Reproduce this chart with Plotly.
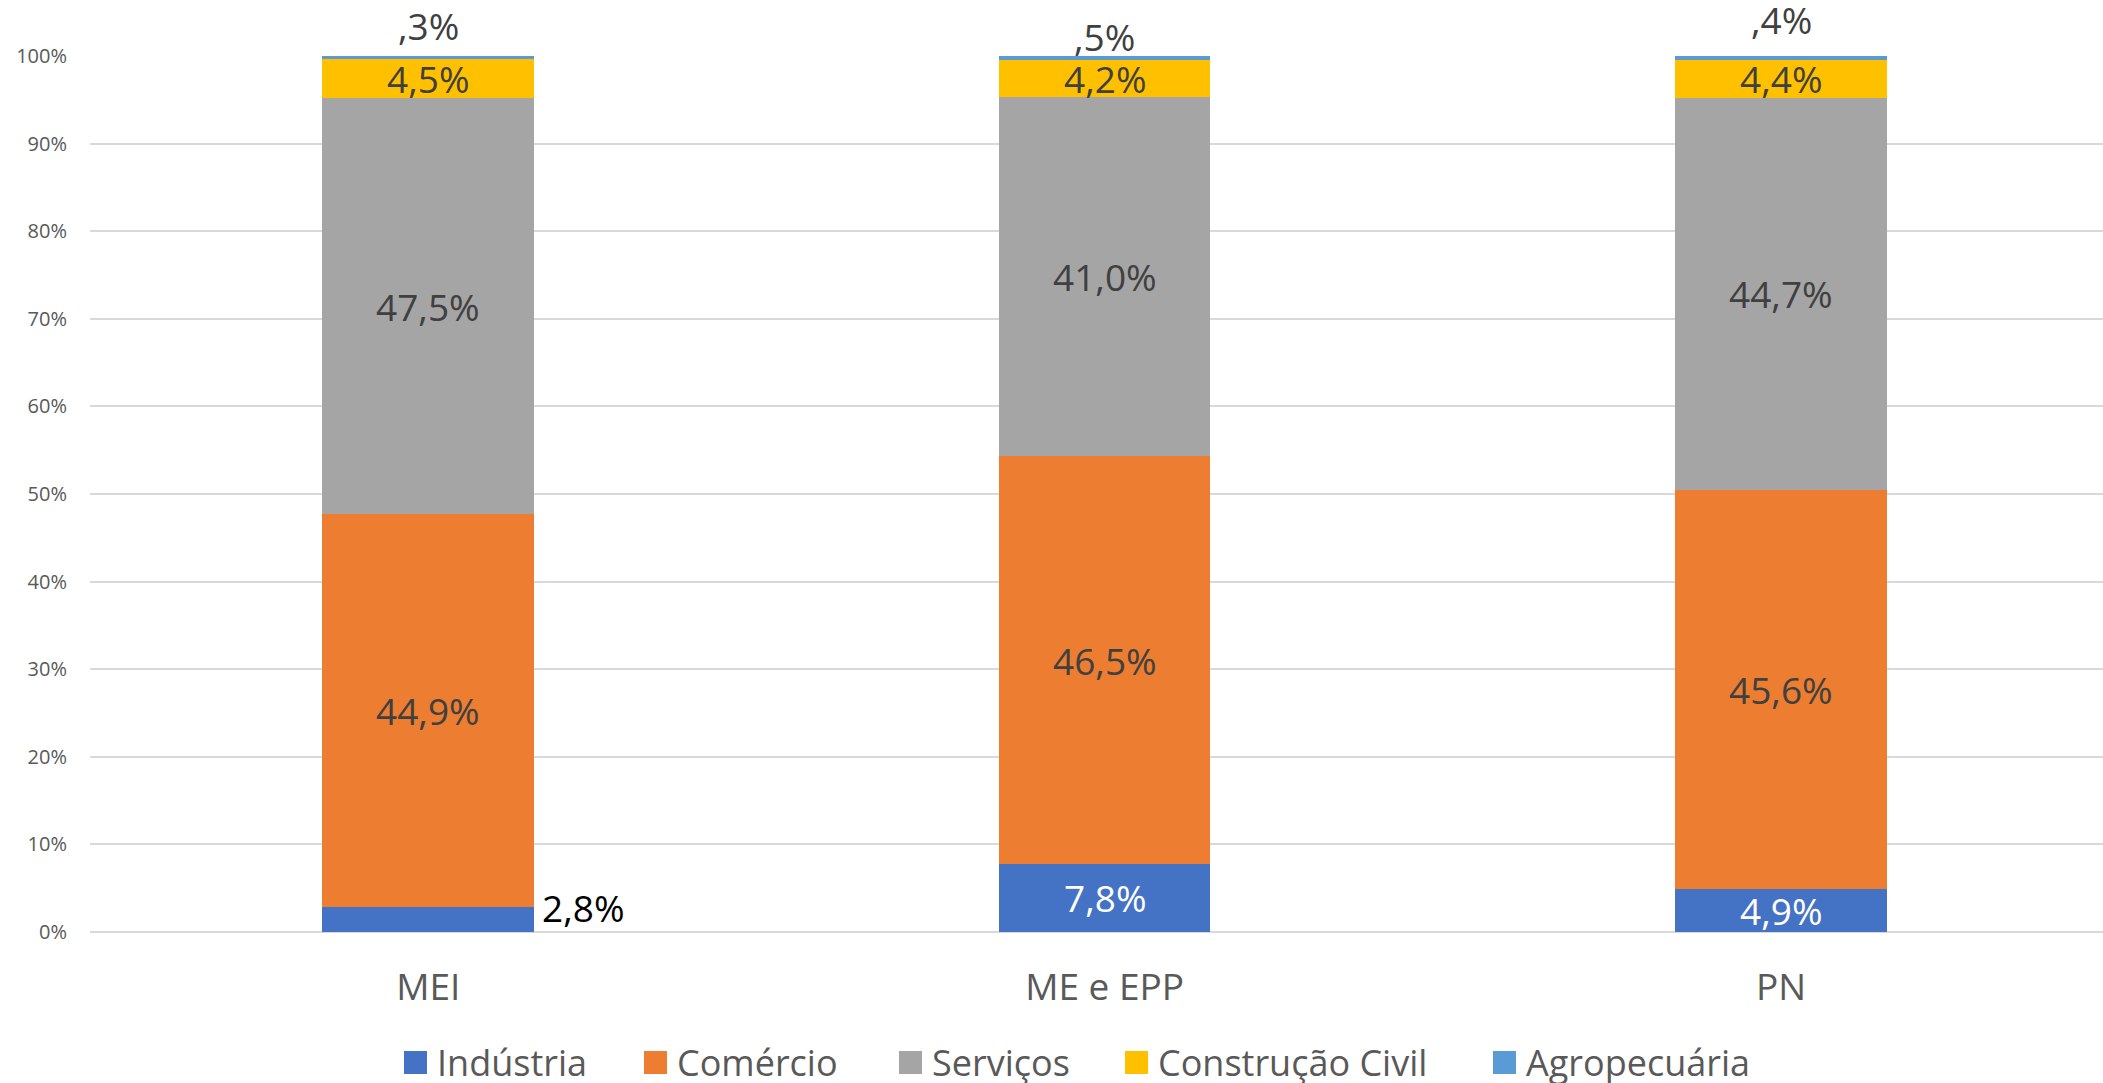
import plotly.graph_objects as go

# Porte da empresa
categories = ["MEI", "ME e EPP", "PN"]

# Participação por setor (%)
industria = [2.8, 7.8, 4.9]
comercio = [44.9, 46.5, 45.6]
servicos = [47.5, 41.0, 44.7]
construcao = [4.5, 4.2, 4.4]
agropecuaria = [0.3, 0.5, 0.4]

series_names = ["Indústria", "Comércio", "Serviços", "Construção Civil", "Agropecuária"]
series_values = [industria, comercio, servicos, construcao, agropecuaria]
series_colors = ["#4472C4", "#ED7D31", "#A5A5A5", "#FFC000", "#5B9BD5"]

FONT = "Open Sans"
W, H = 2103, 1083
ML, MR, MT, MB = 90, 0, 56, 151
PW, PH = W - ML - MR, H - MT - MB


def fmt_pct(v):
    s = f"{v:.1f}".replace(".", ",")
    if s.startswith("0,"):
        s = s[1:]
    return s + "%"


fig = go.Figure()
for name, vals, color in zip(series_names, series_values, series_colors):
    fig.add_trace(go.Bar(
        name=name,
        x=categories,
        y=[v / 100 for v in vals],
        marker=dict(color=color, line=dict(width=0)),
        width=0.313,
        showlegend=False,
        hoverinfo="skip",
    ))

annotations = []
# Rótulos dentro das barras (centro de cada segmento)
for ci, cat in enumerate(categories):
    base = 0.0
    for si, (name, vals) in enumerate(zip(series_names, series_values)):
        v = vals[ci]
        mid = (base + v / 2) / 100
        top = (base + v) / 100
        text = fmt_pct(v)
        if name == "Agropecuária":
            # rótulos acima da barra
            shift = [31, 20, 37][ci]
            annotations.append(dict(x=cat, y=1.0, xref="x", yref="y", text=text,
                                    showarrow=False, yanchor="middle", yshift=shift,
                                    font=dict(family=FONT, size=37, color="#404040")))
        elif name == "Indústria" and cat == "MEI":
            # segmento pequeno: rótulo à direita da barra
            annotations.append(dict(x=cat, y=top, xref="x", yref="y", text=text,
                                    showarrow=False, xanchor="left", yanchor="middle",
                                    xshift=112, font=dict(family=FONT, size=37, color="#000000")))
        else:
            color = "#FFFFFF" if name == "Indústria" else "#404040"
            annotations.append(dict(x=cat, y=mid, xref="x", yref="y", text=text,
                                    showarrow=False, yanchor="middle",
                                    font=dict(family=FONT, size=37, color=color)))
        base += v


# Legenda desenhada manualmente (quadrados grandes como no Excel)
def px_x(px):
    return (px - ML) / PW


def px_y(py):
    return (H - MB - py) / PH


legend_sq_left = [404, 644, 899, 1125, 1493]
shapes = []
for name, color, sx in zip(series_names, series_colors, legend_sq_left):
    shapes.append(dict(type="rect", xref="paper", yref="paper",
                       x0=px_x(sx), x1=px_x(sx + 23), y0=px_y(1074), y1=px_y(1051),
                       fillcolor=color, line=dict(width=0)))
    annotations.append(dict(x=px_x(sx + 31), y=px_y(1062), xref="paper", yref="paper",
                            text=name, showarrow=False, xanchor="left", yanchor="middle",
                            font=dict(family=FONT, size=36, color="#595959")))

fig.update_layout(
    barmode="stack",
    width=W, height=H,
    margin=dict(l=ML, r=MR, t=MT, b=MB, pad=0),
    paper_bgcolor="white",
    plot_bgcolor="white",
    bargap=0.687,
    shapes=shapes,
    annotations=annotations,
    xaxis=dict(
        type="category",
        range=[-0.5, 2.476],
        showgrid=False,
        showline=False,
        zeroline=False,
        ticks="",
        ticklabelstandoff=30,
        tickfont=dict(family=FONT, size=37, color="#595959"),
    ),
    yaxis=dict(
        range=[0, 1],
        tickvals=[i / 10 for i in range(11)],
        tickformat=".0%",
        showgrid=True,
        gridcolor="#D9D9D9",
        gridwidth=1.5,
        zeroline=True,
        zerolinecolor="#D9D9D9",
        zerolinewidth=1.5,
        showline=False,
        ticks="",
        ticklabelstandoff=22,
        tickfont=dict(family=FONT, size=20, color="#595959"),
    ),
)

fig.write_html("out.html")
